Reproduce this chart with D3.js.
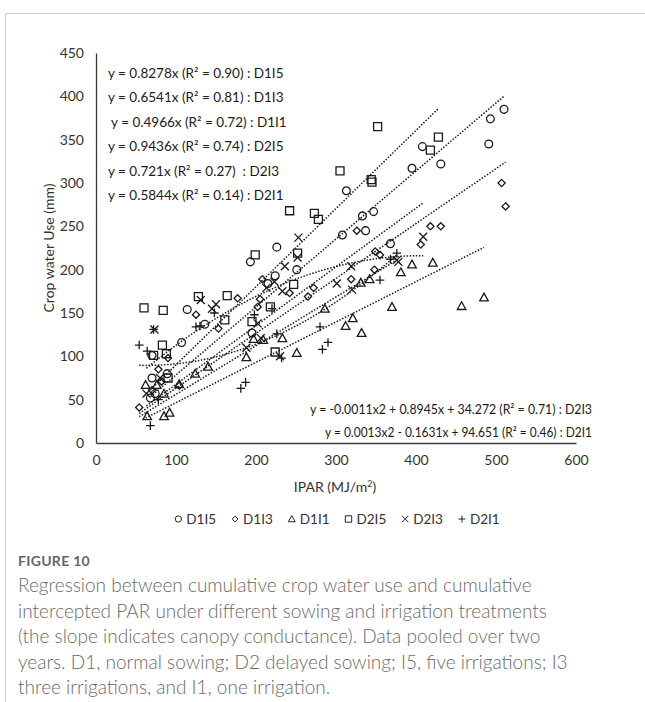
<!DOCTYPE html>
<html><head><meta charset="utf-8">
<script src="https://cdn.jsdelivr.net/npm/d3@7"></script>
<style>
body{margin:0;background:#fff;}
svg{display:block;}
</style></head><body>
<svg id="c" width="645" height="702"></svg>
<script>
// ---------------- data ----------------
const seriesNames = ["D1I5","D1I3","D1I1","D2I5","D2I3","D2I1"];
const symbolTypes = ["circle","diamond","triangle","square","cross","plus"];

const d1i5 = [[68,52],[74,57],[70,75],[89,80],[70,101],[107,116],[114,154],[136,137],[195,127],[215,184],[224,193],[226,226],[193,209],[251,200],[308,240],[313,291],[333,262],[337,245],[347,267],[368,230],[395,317],[408,342],[431,322],[491,345],[493,374],[510,385]];
const d1i3 = [[54,41],[70,61],[82,71],[78,85],[104,66],[90,98],[125,148],[153,132],[177,167],[202,157],[205,166],[208,189],[242,173],[265,169],[272,179],[319,189],[326,245],[348,200],[349,221],[355,217],[406,229],[418,250],[431,250],[507,300],[512,273]];
const d1i1 = [[64,31],[85,31],[92,35],[85,57],[62,67],[76,67],[104,68],[124,80],[140,88],[188,99],[197,120],[209,119],[233,121],[251,104],[286,155],[312,135],[321,144],[332,127],[331,185],[342,189],[370,157],[381,197],[395,206],[421,208],[457,158],[485,168]];
const d2i5 = [[60,156],[84,153],[72,101],[88,103],[83,113],[90,75],[128,169],[161,142],[164,170],[195,140],[199,217],[218,157],[224,105],[242,268],[247,183],[252,219],[273,265],[278,258],[305,314],[344,304],[345,301],[352,365],[418,338],[428,353]];
const d2i3 = [[63,57],[80,75],[73,131],[131,165],[145,155],[150,160],[188,110],[202,138],[206,121],[213,179],[223,186],[230,100],[233,175],[236,204],[252,214],[253,237],[301,184],[319,204],[320,177],[376,211],[378,209],[409,238]];
const d2i1 = [[54,113],[64,106],[68,20],[78,50],[72,131],[125,134],[130,135],[148,150],[181,63],[187,70],[198,148],[220,155],[226,126],[232,98],[280,134],[283,108],[290,116],[355,188],[368,212],[376,219]];

const quadD2I3 = [-0.0011,0.8945,34.272];
const quadD2I1 = [0.0013,-0.1631,94.651];

const eqLabels = [
  "y = 0.8278x (R\u00B2 = 0.90) : D1I5",
  "y = 0.6541x (R\u00B2 = 0.81) : D1I3",
  " y = 0.4966x (R\u00B2 = 0.72) : D1I1",
  "y = 0.9436x (R\u00B2 = 0.74) : D2I5",
  "y = 0.721x (R\u00B2 = 0.27)  : D2I3",
  "y = 0.5844x (R\u00B2 = 0.14) : D2I1"
];
const quadLabels = [
  "y = -0.0011x2 + 0.8945x + 34.272 (R\u00B2 = 0.71) : D2I3",
  "y = 0.0013x2 - 0.1631x + 94.651 (R\u00B2 = 0.46) : D2I1"
];
const xTicks = [0,100,200,300,400,500,600];
const yTicks = [0,50,100,150,200,250,300,350,400,450];

const captionTitle = "FIGURE 10";
const captionLines = [
  "Regression between cumulative crop water use and cumulative",
  "intercepted PAR under different sowing and irrigation treatments",
  "(the slope indicates canopy conductance). Data pooled over two",
  "years. D1, normal sowing; D2 delayed sowing; I5, five irrigations; I3",
  "three irrigations, and I1, one irrigation."
];

const allSeries = [d1i5,d1i3,d1i1,d2i5,d2i3,d2i1];

// ---------------- drawing ----------------
const svg = d3.select("#c");
const FONT = "Lato, 'Open Sans', 'Liberation Sans', sans-serif";
const INK = "#1a1a1a";

// card frame
svg.append("line").attr("x1",5.5).attr("x2",645).attr("y1",13.5).attr("y2",13.5).attr("stroke","#cfcfcf");
svg.append("line").attr("x1",5.5).attr("x2",5.5).attr("y1",13.5).attr("y2",702).attr("stroke","#cfcfcf");

const x = d3.scaleLinear().domain([0,600]).range([96,576]);
const y = d3.scaleLinear().domain([0,450]).range([443,53]);

// axes
const gx = svg.append("g").attr("transform",`translate(0,${y(0)})`)
  .call(d3.axisBottom(x).tickValues(xTicks).tickSize(0).tickPadding(12));
const gy = svg.append("g").attr("transform",`translate(${x(0)},0)`)
  .call(d3.axisLeft(y).tickValues(yTicks).tickSize(0).tickPadding(12));
[gx,gy].forEach(g=>{
  g.select(".domain").attr("stroke","#3a3a3a").attr("stroke-width",1.3);
  g.selectAll("text").attr("font-family",FONT).attr("font-size",14).attr("fill","#333");
});

// axis titles
svg.append("text").attr("x",335).attr("y",492).attr("text-anchor","middle")
  .attr("font-family",FONT).attr("font-size",14).attr("fill","#333")
  .html('IPAR (MJ/m<tspan dy="-5" font-size="9">2</tspan><tspan dy="5">)</tspan>');
svg.append("text").attr("transform","translate(54,248) rotate(-90)").attr("text-anchor","middle")
  .attr("font-family",FONT).attr("font-size",14).attr("fill","#333")
  .text("Crop water Use (mm)");

// trend lines (least squares through the origin, per series)
const dots = {stroke:INK,"stroke-width":1.5,"stroke-dasharray":"1.5,1.6",fill:"none"};
function applyAttrs(sel,o){for(const k in o) sel.attr(k,o[k]); return sel;}
const fitSlope = s => d3.sum(s,d=>d[0]*d[1]) / d3.sum(s,d=>d[0]*d[0]);
allSeries.forEach((s,i)=>{
  const ext = d3.extent(s,d=>d[0]);
  const m = fitSlope(s);
  applyAttrs(svg.append("line")
    .attr("x1",x(ext[0])).attr("y1",y(m*ext[0]))
    .attr("x2",x(ext[1])).attr("y2",y(m*ext[1])),dots);
});
function quadPath(coef, s){
  const ext = d3.extent(s,d=>d[0]);
  const xs = d3.range(ext[0], ext[1]+0.001, (ext[1]-ext[0])/60);
  return d3.line().x(v=>x(v)).y(v=>y(coef[0]*v*v+coef[1]*v+coef[2]))(xs);
}
applyAttrs(svg.append("path").attr("d",quadPath(quadD2I3,d2i3)),dots);
applyAttrs(svg.append("path").attr("d",quadPath(quadD2I1,d2i1)),dots);

// markers
function markerPath(type,cx,cy){
  const p = d3.path();
  if(type==="circle"){ p.moveTo(cx+3.9,cy); p.arc(cx,cy,3.9,0,2*Math.PI); }
  else if(type==="diamond"){ const h=3.6; p.moveTo(cx,cy-h);p.lineTo(cx+h,cy);p.lineTo(cx,cy+h);p.lineTo(cx-h,cy);p.closePath(); }
  else if(type==="triangle"){ const h=4.3; p.moveTo(cx,cy-h);p.lineTo(cx+h,cy+h*0.8);p.lineTo(cx-h,cy+h*0.8);p.closePath(); }
  else if(type==="square"){ const h=4; p.rect(cx-h,cy-h,2*h,2*h); }
  else if(type==="cross"){ const h=4; p.moveTo(cx-h,cy-h);p.lineTo(cx+h,cy+h);p.moveTo(cx+h,cy-h);p.lineTo(cx-h,cy+h); }
  else if(type==="plus"){ const h=4.3; p.moveTo(cx-h,cy);p.lineTo(cx+h,cy);p.moveTo(cx,cy-h);p.lineTo(cx,cy+h); }
  return p.toString();
}
allSeries.forEach((s,i)=>{
  svg.append("g").selectAll("path").data(s).join("path")
    .attr("d",d=>markerPath(symbolTypes[i],x(d[0]),y(d[1])))
    .attr("fill","none").attr("stroke",INK).attr("stroke-width",1.3);
});

// equation labels
const eqY = [78,102,127,151,176,200];
eqLabels.forEach((t,i)=>{
  svg.append("text").attr("x",108).attr("y",eqY[i])
    .style("white-space","pre")
    .attr("font-family",FONT).attr("font-size",13.5).attr("fill",INK).text(t);
});
const qStart = [310,325], qY = [414,437];
quadLabels.forEach((t,i)=>{
  svg.append("text").attr("x",qStart[i]).attr("y",qY[i])
    .attr("textLength",592-qStart[i]).attr("lengthAdjust","spacingAndGlyphs")
    .attr("font-family",FONT).attr("font-size",13.5).attr("fill",INK).text(t);
});

// legend
const lg = svg.append("g");
let lx = 0;
seriesNames.forEach((n,i)=>{
  const g = lg.append("g");
  g.append("path").attr("d",markerPath(symbolTypes[i],0,0)).attr("fill","none").attr("stroke",INK).attr("stroke-width",1.2)
    .attr("transform",`translate(${lx+4},0) scale(0.8)`);
  const t = g.append("text").attr("x",lx+12).attr("y",5).attr("font-family",FONT).attr("font-size",13.5).attr("fill","#333").text(n);
  lx += 12 + t.node().getComputedTextLength() + 15;
});
lx -= 15;
lg.attr("transform",`translate(${337-lx/2},519)`);

// caption
svg.append("text").attr("x",18).attr("y",566).attr("font-family",FONT).attr("font-size",14)
  .attr("font-weight",700).attr("fill","#666").attr("letter-spacing",0.3).text(captionTitle);
captionLines.forEach((t,i)=>{
  svg.append("text").attr("x",18).attr("y",592+i*25.5).attr("font-family",FONT).attr("font-size",19)
    .attr("font-weight",300).attr("fill","#6a6a6a").text(t);
});
</script>
</body></html>
